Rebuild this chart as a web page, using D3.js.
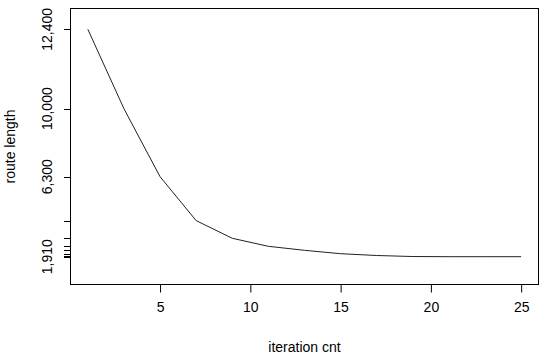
<!DOCTYPE html>
<html><head><meta charset="utf-8">
<script src="https://cdn.jsdelivr.net/npm/d3@7"></script>
<style>body{margin:0;background:#fff}svg{display:block}text{font-family:"Liberation Sans",Arial,sans-serif;fill:#000}</style>
</head><body>
<script>
const iterations = [1,3,5,7,9,11,13,15,17,19,21,23,25];
const routeLength = [12400,10000,6300,3890,2920,2480,2260,2075,1975,1920,1910,1910,1910];
const yLabelValues = [12400,10000,6300,1910];
const xTicks = [5,10,15,20,25];

const W=550,H=362, pL=70.5, pR=538.5, pT=8.5, pB=284.5;
const svg=d3.select("body").append("svg").attr("width",W).attr("height",H);

const x=d3.scaleLinear().domain([0.04,25.96]).range([pL,pR]);
// axis labels are not linearly spaced in the original; piecewise scale through labelled values
const y=d3.scaleLinear().domain([1910,6300,10000,12400]).range([256.7,176.7,108.7,29.3]);

svg.append("rect").attr("x",pL).attr("y",pT).attr("width",pR-pL).attr("height",pB-pT)
  .attr("fill","none").attr("stroke","#000").attr("stroke-width",1);

const xa=svg.append("g").attr("transform",`translate(0,${pB})`)
  .call(d3.axisBottom(x).tickValues(xTicks).tickSize(8).tickPadding(10).tickFormat(d3.format("d")));
xa.select(".domain").remove();
xa.selectAll("text").attr("font-size",14).attr("font-family","Liberation Sans, Arial, sans-serif").attr("fill","#000");
xa.selectAll("line").attr("stroke","#000");

const ya=svg.append("g").attr("transform",`translate(${pL},0)`)
  .call(d3.axisLeft(y).tickValues(routeLength).tickSize(7).tickFormat(""));
ya.select(".domain").remove();
ya.selectAll("line").attr("stroke","#000").attr("shape-rendering","crispEdges");

svg.append("g").selectAll("text").data(yLabelValues).join("text")
  .attr("transform",d=>`translate(51.5,${y(d)}) rotate(-90)`)
  .attr("text-anchor","middle").attr("font-size",14)
  .text(d=>d3.format(",")(d));

svg.append("path").datum(iterations.map((d,i)=>[d,routeLength[i]]))
  .attr("fill","none").attr("stroke","#222").attr("stroke-width",1)
  .attr("d",d3.line().x(d=>x(d[0])).y(d=>y(d[1])));

svg.append("text").attr("x",(pL+pR)/2).attr("y",351.5).attr("text-anchor","middle")
  .attr("font-size",14).text("iteration cnt");
svg.append("text").attr("transform",`translate(14.5,${(pT+pB)/2}) rotate(-90)`)
  .attr("text-anchor","middle").attr("font-size",14).text("route length");
</script>
</body></html>
